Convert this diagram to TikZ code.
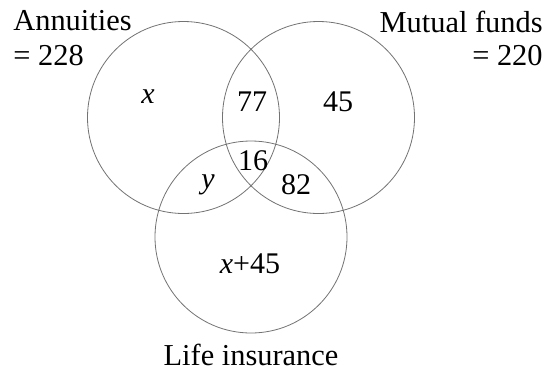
\documentclass[tikz,border=0pt]{standalone}
\usepackage{fontspec}
\setmainfont{Liberation Serif}
\usepackage{tikz}
\usetikzlibrary{positioning}
\tikzstyle{setcircle} = [circle, draw=black!55, line width=0.4pt, minimum size=96pt, inner sep=0pt]
\tikzstyle{count} = [inner sep=0pt, font=\fontsize{15}{18}\selectfont]
\tikzstyle{setname} = [inner sep=0pt, font=\fontsize{15.2}{18}\selectfont]

\begin{document}
\begin{tikzpicture}[x=0.5pt,y=0.5pt]
  \useasboundingbox (0,0) rectangle (547,372);
  \node (ann)  [setcircle] at (183.5,254.5) {};
  \node (mut)  [setcircle] at (318.5,254.5) {};
  \node (life) [setcircle] at (251,135) {};

  \node (annname)  [setname, anchor=base west] at (13,342) {Annuities};
  \node (anntot)   [setname, anchor=base west] at (13,307) {= 228};
  \node (mutname)  [setname, anchor=base east] at (543,340) {Mutual funds};
  \node (muttot)   [setname, anchor=base east] at (543,307) {= 220};
  \node (lifename) [setname, anchor=base] at (251,7) {Life insurance};

  \node (onlyann)  [count] at (148,275) {\textit{x}};
  \node (annmut)   [count] at (252,270) {77};
  \node (onlymut)  [count] at (338,270) {45};
  \node (all)      [count] at (253,211) {16};
  \node (annlife)  [count] at (208,187) {\textit{y}};
  \node (mutlife)  [count] at (296,187) {82};
  \node (onlylife) [count] at (250,108) {\textit{x}+45};
\end{tikzpicture}
\end{document}
